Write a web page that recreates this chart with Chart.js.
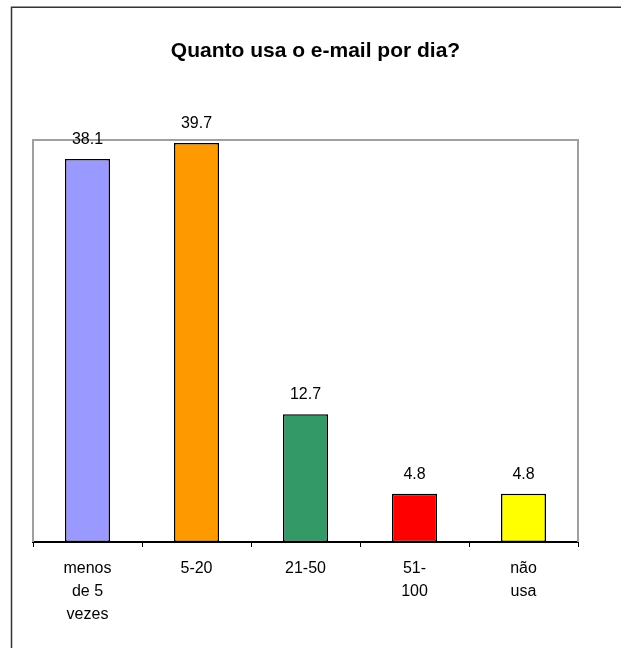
<!DOCTYPE html>
<html>
<head>
<meta charset="utf-8">
<script src="https://cdn.jsdelivr.net/npm/chart.js@4/dist/chart.umd.min.js"></script>
<style>
  html, body { margin: 0; padding: 0; background: #ffffff; }
  #wrap { position: relative; width: 621px; height: 648px; }
</style>
</head>
<body>
<div id="wrap"><canvas id="c" width="621" height="648"></canvas></div>
<script>
const chartTitle = "Quanto usa o e-mail por dia?";
const categories = [["menos", "de 5", "vezes"], "5-20", "21-50", ["51-", "100"], ["não", "usa"]];
const values = [38.1, 39.7, 12.7, 4.8, 4.8];
const barColors = ["#9999FF", "#FF9900", "#339966", "#FF0000", "#FFFF00"];
const yMin = 0;
const yMax = 40;

const FONT = "'Liberation Sans', Arial, sans-serif";

const framePlugin = {
  id: 'frame',
  beforeDraw(chart) {
    const ctx = chart.ctx;
    ctx.save();
    ctx.fillStyle = '#ffffff';
    ctx.fillRect(0, 0, chart.width, chart.height);
    // outer border (top and left)
    ctx.strokeStyle = '#333333';
    ctx.lineWidth = 1.5;
    ctx.beginPath();
    ctx.moveTo(11.5, chart.height);
    ctx.lineTo(11.5, 7.3);
    ctx.lineTo(chart.width, 7.3);
    ctx.stroke();
    // title
    ctx.fillStyle = '#000000';
    ctx.font = 'bold 21px ' + FONT;
    ctx.textAlign = 'center';
    ctx.textBaseline = 'alphabetic';
    ctx.fillText(chartTitle, 315.5, 57);
    ctx.restore();
  },
  beforeDatasetsDraw(chart) {
    const a = chart.chartArea;
    const ctx = chart.ctx;
    ctx.save();
    ctx.strokeStyle = '#a0a0a0';
    ctx.lineWidth = 2;
    ctx.beginPath();
    ctx.moveTo(a.left, a.bottom);
    ctx.lineTo(a.left, a.top);
    ctx.lineTo(a.right, a.top);
    ctx.lineTo(a.right, a.bottom);
    ctx.stroke();
    ctx.restore();
  },
  afterDatasetsDraw(chart) {
    const ctx = chart.ctx;
    const meta = chart.getDatasetMeta(0);
    ctx.save();
    ctx.fillStyle = '#000000';
    ctx.font = '16px ' + FONT;
    ctx.textAlign = 'center';
    ctx.textBaseline = 'middle';
    meta.data.forEach((bar, i) => {
      ctx.fillText(String(values[i]), bar.x, bar.y - 19.5);
    });
    ctx.restore();
  }
};

new Chart(document.getElementById('c'), {
  type: 'bar',
  data: {
    labels: categories,
    datasets: [{
      data: values,
      backgroundColor: barColors,
      borderColor: '#000000',
      borderWidth: 1.5,
      borderSkipped: false,
      barPercentage: 0.413,
      categoryPercentage: 1.0
    }]
  },
  options: {
    responsive: false,
    animation: false,
    devicePixelRatio: 1,
    layout: { padding: { top: 140, left: 33, right: 43, bottom: 0 } },
    plugins: {
      legend: { display: false },
      title: { display: false },
      tooltip: { enabled: false }
    },
    scales: {
      y: {
        display: false,
        min: yMin,
        max: yMax
      },
      x: {
        offset: true,
        afterFit(scale) { scale.height = 106; },
        grid: {
          offset: true,
          drawOnChartArea: false,
          drawTicks: true,
          tickLength: 5,
          color: '#000000',
          lineWidth: 1
        },
        border: { display: true, color: '#000000', width: 2 },
        ticks: {
          color: '#000000',
          font: { family: FONT, size: 16, lineHeight: 1.45 },
          padding: 10,
          maxRotation: 0,
          autoSkip: false
        }
      }
    }
  },
  plugins: [framePlugin]
});
</script>
</body>
</html>
